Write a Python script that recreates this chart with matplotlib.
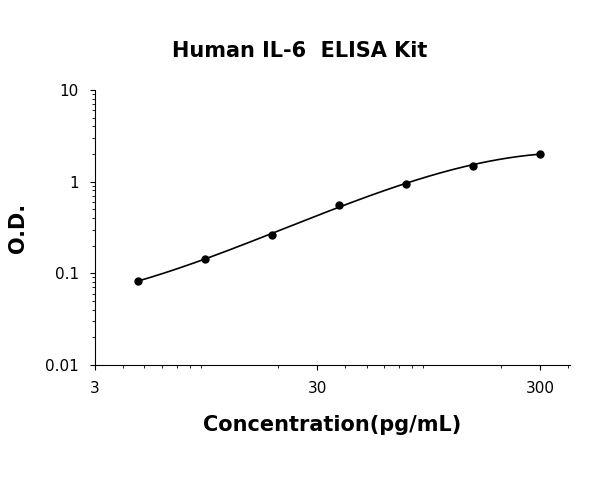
import numpy as np
import matplotlib
matplotlib.use("Agg")
import matplotlib.pyplot as plt
from matplotlib.ticker import FixedLocator, FixedFormatter, LogLocator, NullFormatter

conc = [4.69, 9.38, 18.75, 37.5, 75, 150, 300]
od = [0.083, 0.142, 0.262, 0.56, 0.95, 1.48, 2.02]
xticks = [3, 30, 300]
xlabels = ["3", "30", "300"]
yticks = [0.01, 0.1, 1, 10]
ylabels = ["0.01", "0.1", "1", "10"]

fig = plt.figure(figsize=(6, 4.86), dpi=100)
ax = fig.add_axes([0.158, 0.249, 0.792, 0.566])
ax.set_xscale("log"); ax.set_yscale("log")
ax.set_xlim(3, 410); ax.set_ylim(0.01, 10)

lx, ly = np.log10(conc), np.log10(od)
c = np.polyfit(lx, ly, 3)
xs = np.linspace(lx[0], lx[-1], 200)
ax.plot(10**xs, 10**np.polyval(c, xs), color="black", lw=1.2)
ax.plot(conc, od, "o", color="black", ms=5)

for s in ["top", "right"]:
    ax.spines[s].set_visible(False)
ax.xaxis.set_major_locator(FixedLocator(xticks))
ax.xaxis.set_major_formatter(FixedFormatter(xlabels))
ax.yaxis.set_major_locator(FixedLocator(yticks))
ax.yaxis.set_major_formatter(FixedFormatter(ylabels))
ax.xaxis.set_minor_locator(LogLocator(base=10, subs=np.arange(2, 10)))
ax.yaxis.set_minor_locator(LogLocator(base=10, subs=np.arange(2, 10)))
ax.xaxis.set_minor_formatter(NullFormatter())
ax.yaxis.set_minor_formatter(NullFormatter())
ax.tick_params(labelsize=11, pad=8)
ax.set_xlabel("Concentration(pg/mL)", fontsize=15, fontweight="bold", labelpad=14)
ax.set_ylabel("O.D.", fontsize=15, fontweight="bold", labelpad=12)
fig.suptitle("Human IL-6  ELISA Kit", fontsize=15, fontweight="bold", y=0.915)
fig.savefig("out.png", dpi=100)
